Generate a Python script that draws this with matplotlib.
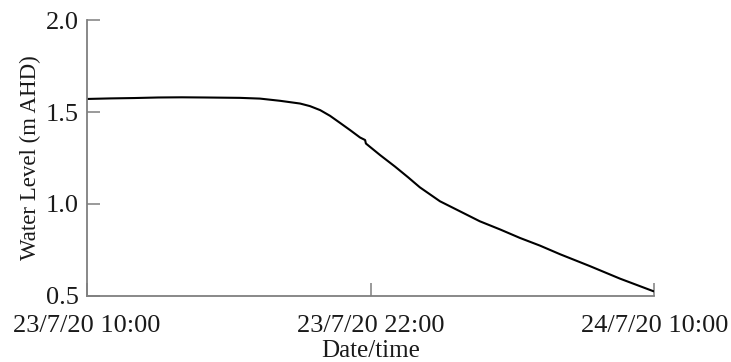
import pandas as pd
import matplotlib
matplotlib.use('Agg')
import matplotlib.pyplot as plt
from matplotlib.ticker import FormatStrFormatter

# Water level record, 23/7/20 10:00 to 24/7/20 10:00
times = ['2020-07-23 10:00', '2020-07-23 11:00', '2020-07-23 12:00',
         '2020-07-23 13:00', '2020-07-23 14:00', '2020-07-23 15:00',
         '2020-07-23 16:28', '2020-07-23 17:19', '2020-07-23 18:10',
         '2020-07-23 19:01', '2020-07-23 19:26', '2020-07-23 19:52',
         '2020-07-23 20:17', '2020-07-23 20:42', '2020-07-23 21:08',
         '2020-07-23 21:33', '2020-07-23 21:46', '2020-07-23 21:48',
         '2020-07-23 22:24', '2020-07-23 23:02', '2020-07-23 23:35',
         '2020-07-24 00:05', '2020-07-24 00:56', '2020-07-24 01:47',
         '2020-07-24 02:37', '2020-07-24 03:29', '2020-07-24 04:19',
         '2020-07-24 05:10', '2020-07-24 06:01', '2020-07-24 07:17',
         '2020-07-24 08:33', '2020-07-24 09:57']
levels = [1.572, 1.575, 1.577,
          1.580, 1.581, 1.580,
          1.578, 1.574, 1.562,
          1.547, 1.533, 1.511,
          1.480, 1.442, 1.402,
          1.362, 1.348, 1.329,
          1.266, 1.203, 1.145,
          1.090, 1.014, 0.959,
          0.905, 0.860, 0.814,
          0.772, 0.725, 0.660,
          0.592, 0.524]

x_ticks = ['2020-07-23 10:00', '2020-07-23 22:00', '2020-07-24 10:00']
x_tick_labels = ['23/7/20 10:00', '23/7/20 22:00', '24/7/20 10:00']
y_ticks = [0.5, 1.0, 1.5, 2.0]

df = pd.DataFrame({'time': pd.to_datetime(times), 'level': levels})

plt.rcParams['font.family'] = ['Liberation Serif', 'DejaVu Serif']

fig = plt.figure(figsize=(7.31, 3.62), dpi=100)
ax = fig.add_axes([0.119, 0.1837, 0.776, 0.7597])

ax.plot(df['time'], df['level'], color='black', lw=1.5)

ax.set_xlim(pd.Timestamp(x_ticks[0]), pd.Timestamp(x_ticks[-1]))
ax.set_ylim(0.5, 2.0)
ax.set_xticks(pd.to_datetime(x_ticks))
ax.set_xticklabels(x_tick_labels)
ax.set_yticks(y_ticks)
ax.yaxis.set_major_formatter(FormatStrFormatter('%.1f'))

grey = '#7f7f7f'
for side in ['top', 'right']:
    ax.spines[side].set_visible(False)
for side in ['left', 'bottom']:
    ax.spines[side].set_color(grey)
    ax.spines[side].set_linewidth(1.3)

ax.tick_params(axis='both', direction='in', length=9.5, width=1.1,
               color=grey, labelsize=19, labelcolor='#1a1a1a')
ax.tick_params(axis='y', pad=6)
ax.tick_params(axis='x', pad=14)

ax.set_ylabel('Water Level (m AHD)', fontsize=16.5, color='#1a1a1a', labelpad=3)
ax.set_xlabel('Date/time', fontsize=18, color='#1a1a1a', labelpad=2)

plt.savefig('out.png', dpi=100)
